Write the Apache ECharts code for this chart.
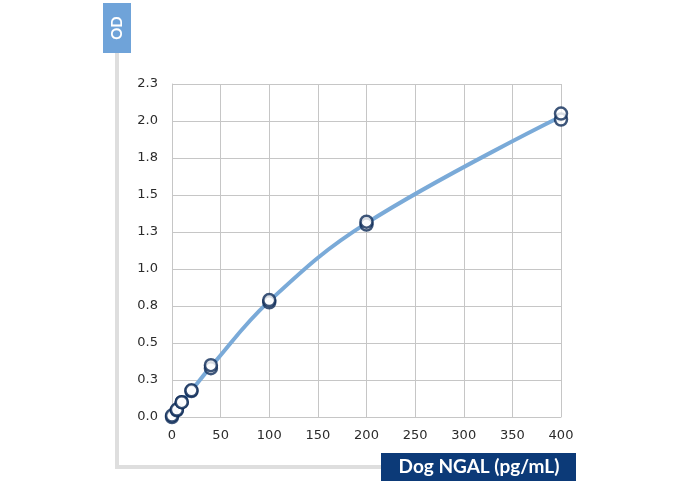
<!DOCTYPE html>
<html>
<head>
<meta charset="utf-8">
<script src="https://cdn.jsdelivr.net/npm/echarts@6/dist/echarts.min.js"></script>
<style>
  html, body { margin: 0; padding: 0; background: #fff; }
  #chart { width: 680px; height: 485px; }
</style>
</head>
<body>
<div id="chart"></div>
<script>
// replicate readings (pg/mL, OD)
var concentrations = [0, 0, 5, 5, 10, 10, 20, 20, 40, 40, 100, 100, 200, 200, 400, 400];
var odReadings = [0.00, 0.01, 0.045, 0.05, 0.10, 0.10, 0.175, 0.18, 0.33, 0.35, 0.775, 0.79, 1.30, 1.32, 2.01, 2.05];

// standard curve through the mean of each pair
var curveConc = [0, 5, 10, 20, 40, 100, 200, 400];
var curveOD = [0.005, 0.048, 0.10, 0.178, 0.34, 0.783, 1.31, 2.03];

var yTickLabels = ['0.0', '0.3', '0.5', '0.8', '1.0', '1.3', '1.5', '1.8', '2.0', '2.3'];
var xTickLabels = ['0', '50', '100', '150', '200', '250', '300', '350', '400'];

var chart = echarts.init(document.getElementById('chart'));

var scatterData = concentrations.map(function (c, i) { return [c, odReadings[i]]; });
var curveData = curveConc.map(function (c, i) { return [c, curveOD[i]]; });

var gridColor = '#c6c6c6';
var labelStyle = { color: '#2b2b2b', fontFamily: 'DejaVu Sans', fontSize: 13 };

var option = {
    backgroundColor: '#fff',
    animation: false,
    grid: { left: 172, right: 119, top: 84, bottom: 68 },
    xAxis: {
        type: 'value',
        min: 0, max: 400, interval: 50,
        axisLine: { show: true, lineStyle: { color: gridColor, width: 1 } },
        axisTick: { show: false },
        splitLine: { show: true, lineStyle: { color: gridColor, width: 1 } },
        axisLabel: Object.assign({
            margin: 12,
            formatter: function (v) { return xTickLabels[Math.round(v / 50)]; }
        }, labelStyle)
    },
    yAxis: {
        type: 'value',
        min: 0, max: 2.25, interval: 0.25,
        axisLine: { show: true, lineStyle: { color: gridColor, width: 1 } },
        axisTick: { show: false },
        splitLine: { show: true, lineStyle: { color: gridColor, width: 1 } },
        axisLabel: Object.assign({
            margin: 14,
            formatter: function (v) { return yTickLabels[Math.round(v / 0.25)]; }
        }, labelStyle)
    },
    graphic: [
        // grey L frame
        { type: 'line', shape: { x1: 117, y1: 53, x2: 117, y2: 467 }, style: { stroke: '#dedede', lineWidth: 4 } },
        { type: 'line', shape: { x1: 115, y1: 467, x2: 381, y2: 467 }, style: { stroke: '#dedede', lineWidth: 4 } },
        // right border of the plot
        { type: 'line', shape: { x1: 561.5, y1: 84, x2: 561.5, y2: 417 }, style: { stroke: gridColor, lineWidth: 1 } },
        // OD tag
        { type: 'rect', shape: { x: 103, y: 3, width: 28, height: 50 }, style: { fill: '#6fa3d9' } },
        {
            type: 'text', x: 117, y: 28, rotation: Math.PI / 2,
            style: { text: 'OD', fill: '#fff', font: 'bold 15px Lato', align: 'center', verticalAlign: 'middle' }
        },
        // x axis title tag
        { type: 'rect', shape: { x: 381, y: 453, width: 195, height: 28 }, style: { fill: '#0c3a78' } },
        {
            type: 'text', x: 479, y: 467,
            style: { text: 'Dog NGAL (pg/mL)', fill: '#fff', font: 'bold 19px Lato', align: 'center', verticalAlign: 'middle' }
        }
    ],
    series: [
        {
            type: 'line',
            data: curveData,
            smooth: 0.4,
            showSymbol: false,
            lineStyle: { color: '#7aaad8', width: 4 },
            z: 2
        },
        {
            type: 'scatter',
            data: scatterData,
            symbol: 'circle',
            symbolSize: 12,
            itemStyle: { color: '#fff', borderColor: '#0d2a58', borderWidth: 2.5 },
            z: 3
        }
    ]
};

chart.setOption(option);
</script>
</body>
</html>
